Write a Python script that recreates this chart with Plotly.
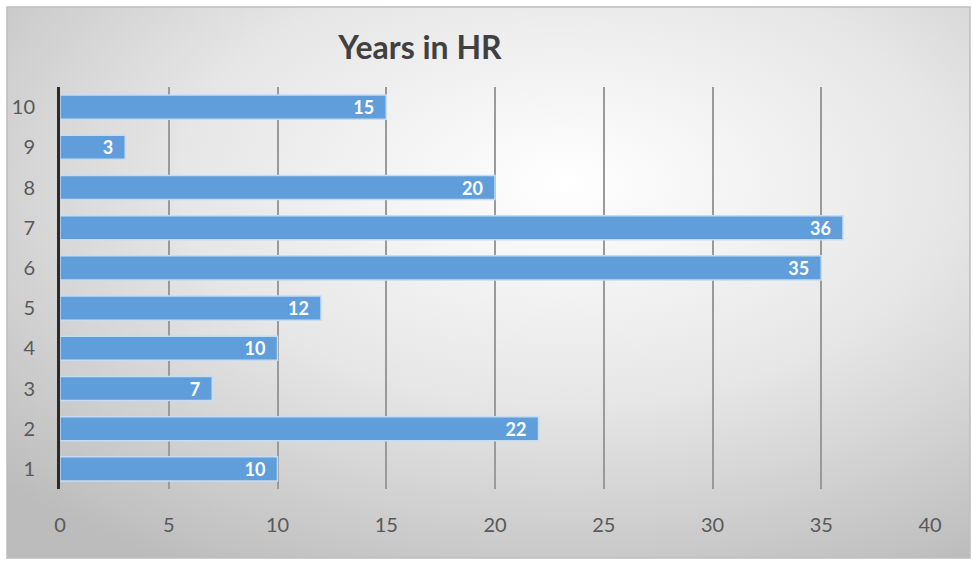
import base64
import plotly.graph_objects as go

categories = ["1", "2", "3", "4", "5", "6", "7", "8", "9", "10"]
years = [10, 22, 7, 10, 12, 35, 36, 20, 3, 15]
x_ticks = [0, 5, 10, 15, 20, 25, 30, 35, 40]

W, H = 973, 563
ML, MR, MT, MB = 60, 43, 87, 74
PW, PH = W - ML - MR, H - MT - MB

svg = f'''<svg xmlns="http://www.w3.org/2000/svg" width="{W}" height="{H}" viewBox="0 0 {W} {H}">
<defs><radialGradient id="g" cx="58%" cy="32%" r="80%">
<stop offset="0" stop-color="#ffffff"/><stop offset="0.5" stop-color="#e6e6e6"/><stop offset="1" stop-color="#bcbcbc"/>
</radialGradient></defs>
<rect x="0" y="0" width="{W}" height="{H}" fill="#ffffff"/>
<rect x="7" y="7" width="{W-10}" height="{H-12}" fill="url(#g)" stroke="#bdbdbd" stroke-width="1.5"/>
</svg>'''
src = "data:image/svg+xml;base64," + base64.b64encode(svg.encode()).decode()

fig = go.Figure()
fig.add_trace(go.Bar(
    y=categories, x=years, orientation="h",
    marker=dict(color="#5f9edb", line=dict(color="#c5dcf2", width=1.5)),
    text=[f"{v}\u2002" for v in years], textposition="inside", insidetextanchor="end", textangle=0,
    constraintext="none",
    textfont=dict(family="Lato, Open Sans, sans-serif", size=18, color="white", weight="bold"),
    cliponaxis=False,
))

fig.update_layout(
    width=W, height=H,
    margin=dict(l=ML, r=MR, t=MT, b=MB, autoexpand=False),
    paper_bgcolor="rgba(0,0,0,0)", plot_bgcolor="rgba(0,0,0,0)",
    bargap=0.4,
    showlegend=False,
    title=dict(text="<b>Years in HR</b>", x=420 / W, xanchor="center", y=1 - 48 / H, yanchor="middle",
               font=dict(family="Lato, Open Sans, sans-serif", size=32, color="#404040")),
    images=[dict(source=src, xref="paper", yref="paper", x=-ML / PW, y=1 + MT / PH,
                 sizex=W / PW, sizey=H / PH, xanchor="left", yanchor="top",
                 sizing="stretch", layer="below")],
    xaxis=dict(range=[0, 40], tickvals=x_ticks, showgrid=True, gridcolor="#9a9a9a", gridwidth=1.5,
               zeroline=False, showline=False, ticks="", ticklabelstandoff=22, automargin=False,
               tickfont=dict(family="Lato, Open Sans, sans-serif", size=20, color="#595959")),
    yaxis=dict(categoryorder="array", categoryarray=categories, range=[-0.5, 9.5],
               showgrid=False, zeroline=False, showline=True, linecolor="#2b2b2b", linewidth=3,
               ticks="", ticklabelstandoff=18, automargin=False,
               tickfont=dict(family="Lato, Open Sans, sans-serif", size=20, color="#595959")),
)

fig.write_html("out.html", config={"displayModeBar": False},
               post_script="document.body.style.margin='0';")
